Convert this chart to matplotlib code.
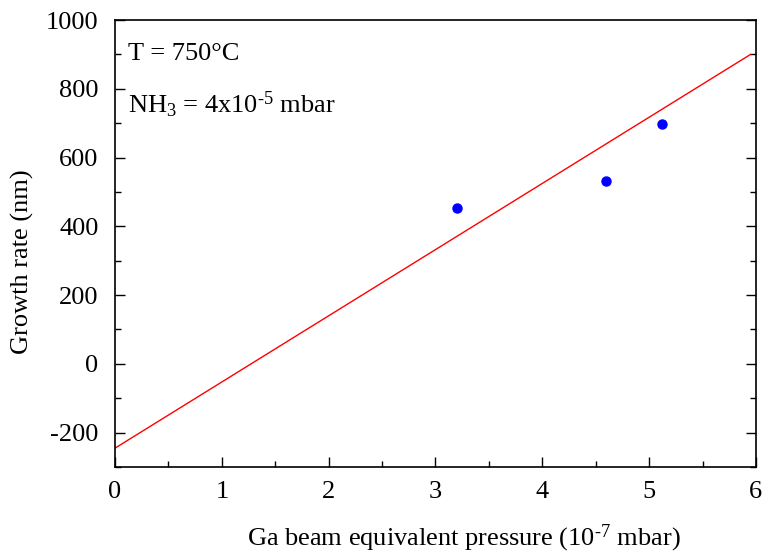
import matplotlib.pyplot as plt
from matplotlib.ticker import MultipleLocator

plt.rcParams['font.family'] = ['Liberation Serif', 'DejaVu Serif']
plt.rcParams['mathtext.fontset'] = 'custom'
plt.rcParams['mathtext.rm'] = 'Liberation Serif'
plt.rcParams['mathtext.it'] = 'Liberation Serif:italic'
plt.rcParams['axes.unicode_minus'] = False

# measured growth rates
pressure = [3.2, 4.6, 5.12]
growth = [452, 532, 699]

# linear fit drawn as a line
fit_x = [0.0, 5.95]
fit_y = [-245, 900]

fig = plt.figure(figsize=(7.62, 5.56), dpi=100)
ax = fig.add_axes([0.151, 0.160, 0.841, 0.804])

ax.plot(fit_x, fit_y, color='red', lw=1.0)
ax.plot(pressure, growth, 'o', color='blue', ms=6.5, mec='blue')

ax.set_xlim(0, 6)
ax.set_ylim(-300, 1000)
ax.set_yticks([-200, 0, 200, 400, 600, 800, 1000])
ax.xaxis.set_minor_locator(MultipleLocator(0.5))
ax.yaxis.set_minor_locator(MultipleLocator(100))
ax.tick_params(which='both', direction='in', right=True, top=False,
               labelsize=19, width=1)
ax.tick_params(which='major', length=7)
ax.tick_params(which='minor', length=4)
ax.tick_params(axis='y', pad=12)
ax.tick_params(axis='x', pad=10)
for s in ax.spines.values():
    s.set_linewidth(1.2)

ax.set_xlabel(r'Ga beam equivalent pressure (10$^{\text{-}7}$ mbar)', fontsize=19)
ax.set_ylabel('Growth rate (nm)', fontsize=19)
ax.xaxis.set_label_coords(0.545, -0.124)
ax.yaxis.set_label_coords(-0.127, 0.46)

ax.text(0.02, 0.925, 'T = 750°C', transform=ax.transAxes, fontsize=19, va='center')
ax.text(0.02, 0.81, r'NH$_3$ = 4x10$^{\text{-}5}$ mbar', transform=ax.transAxes,
        fontsize=19, va='center')

plt.savefig('out.png', dpi=100)
